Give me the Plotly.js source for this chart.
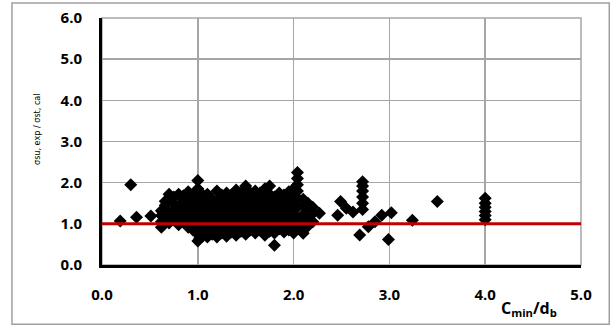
<!DOCTYPE html>
<html>
<head>
<meta charset="utf-8">
<script src="https://cdn.plot.ly/plotly-3.0.1.min.js"></script>
<style>html,body{margin:0;padding:0;background:#fff;}#chart{width:613px;height:331px;}</style>
</head>
<body>
<div id="chart"></div>
<script>
// Measured points (Cmin/db, ratio)
const cminDb = [
 0.19,0.30,0.36,0.51,
 0.62,0.62,0.62,0.62,
 0.66,0.66,0.66,
 0.70,0.70,0.70,0.70,
 0.75,0.75,0.75,0.75,
 0.80,0.80,0.80,0.80,
 0.85,0.85,0.85,0.85,
 0.90,0.90,0.90,0.90,0.90,
 0.95,0.95,0.95,0.95,0.95,
 1.00,1.00,1.00,1.00,1.00,1.00,1.00,1.00,1.00,1.00,
 1.02,1.02,1.02,1.02,1.02,1.02,1.02,
 1.05,1.05,1.05,1.05,1.05,
 1.10,1.10,1.10,1.10,1.10,1.10,
 1.15,1.15,1.15,1.15,1.15,
 1.20,1.20,1.20,1.20,1.20,1.20,
 1.25,1.25,1.25,1.25,1.25,
 1.30,1.30,1.30,1.30,1.30,1.30,
 1.35,1.35,1.35,1.35,1.35,
 1.40,1.40,1.40,1.40,1.40,1.40,
 1.45,1.45,1.45,1.45,1.45,
 1.50,1.50,1.50,1.50,1.50,1.50,
 1.55,1.55,1.55,1.55,1.55,
 1.60,1.60,1.60,1.60,1.60,1.60,
 1.65,1.65,1.65,1.65,1.65,
 1.70,1.70,1.70,1.70,1.70,1.70,
 1.75,1.75,1.75,1.75,1.75,1.75,
 1.80,1.80,1.80,1.80,1.80,1.80,
 1.85,1.85,1.85,1.85,1.85,
 1.90,1.90,1.90,1.90,1.90,
 1.95,1.95,1.95,1.95,1.95,
 2.00,2.00,2.00,2.00,2.00,2.00,
 2.04,2.04,2.04,2.04,2.04,2.04,2.04,2.04,
 2.10,2.10,2.10,2.10,2.10,
 2.15,2.15,2.15,2.15,
 2.20,2.20,2.20,
 2.27,
 2.46,2.49,2.55,2.62,
 2.72,2.72,2.72,2.72,2.72,2.72,
 2.69,2.78,2.85,2.92,3.02,2.99,3.24,3.50,
 4.00,4.00,4.00,4.00,4.00,4.00
];
const ratio = [
 1.07,1.95,1.16,1.19,
 0.92,1.05,1.20,1.32,
 1.12,1.45,1.55,
 1.02,1.25,1.60,1.72,
 1.10,1.35,1.50,1.65,
 0.98,1.20,1.42,1.72,
 1.05,1.30,1.55,1.68,
 0.92,1.15,1.40,1.62,1.78,
 0.85,1.05,1.28,1.50,1.70,
 0.58,0.75,0.90,1.10,1.25,1.40,1.55,1.70,1.85,2.05,
 0.65,0.82,1.00,1.18,1.35,1.62,1.78,
 0.70,0.95,1.20,1.45,1.65,
 0.68,0.88,1.08,1.30,1.52,1.72,
 0.75,1.00,1.22,1.42,1.60,
 0.68,0.90,1.12,1.35,1.55,1.80,
 0.78,1.02,1.25,1.48,1.70,
 0.70,0.92,1.15,1.38,1.60,1.75,
 0.80,1.05,1.28,1.50,1.70,
 0.72,0.95,1.18,1.40,1.62,1.82,
 0.82,1.08,1.30,1.55,1.75,
 0.75,0.98,1.20,1.42,1.65,1.92,
 0.85,1.10,1.32,1.55,1.75,
 0.78,1.00,1.22,1.45,1.68,1.80,
 0.88,1.12,1.35,1.58,1.75,
 0.72,0.95,1.18,1.40,1.62,1.85,
 0.82,1.05,1.28,1.50,1.72,1.92,
 0.48,0.78,1.00,1.22,1.45,1.65,
 0.88,1.10,1.32,1.55,1.75,
 0.80,1.02,1.25,1.48,1.70,
 0.85,1.10,1.35,1.58,1.78,
 0.78,0.98,1.20,1.42,1.65,1.85,
 0.90,1.15,1.40,1.62,1.80,1.95,2.10,2.25,
 0.77,1.00,1.22,1.45,1.60,
 0.95,1.15,1.35,1.50,
 1.05,1.25,1.40,
 1.26,
 1.21,1.54,1.38,1.29,
 1.35,1.50,1.65,1.80,1.92,2.02,
 0.73,0.93,1.05,1.21,1.27,0.62,1.09,1.54,
 1.10,1.20,1.30,1.40,1.50,1.62
];
const referenceRatio = 1.0;
const xTickVals = [0,1,2,3,4,5];
const xTickText = ['0.0','1.0','2.0','3.0','4.0','5.0'];
const yTickVals = [0,1,2,3,4,5,6];
const yTickText = ['0.0','1.0','2.0','3.0','4.0','5.0','6.0'];

const tickFont = {family:'Open Sans, sans-serif', size:15, color:'#000', weight:'bold'};

const data = [{
  x: cminDb, y: ratio, type:'scatter', mode:'markers',
  marker:{symbol:'diamond', size:10, color:'#000'},
  hoverinfo:'x+y', showlegend:false
}];

const layout = {
  width:613, height:331,
  margin:{l:102, r:32, t:18, b:66},
  paper_bgcolor:'#fff', plot_bgcolor:'#fff',
  showlegend:false,
  xaxis:{range:[0,5], tickvals:xTickVals, ticktext:xTickText,
    showgrid:true, gridcolor:'#a6a6a6', gridwidth:1.5,
    showline:true, linecolor:'#000', linewidth:3, zeroline:false,
    ticks:'', ticklabelstandoff:14, tickfont:tickFont, fixedrange:true},
  yaxis:{range:[0,6], tickvals:yTickVals, ticktext:yTickText,
    showgrid:true, gridcolor:'#a6a6a6', gridwidth:1.5,
    showline:true, linecolor:'#000', linewidth:3, zeroline:false,
    ticks:'', ticklabelstandoff:14, tickfont:tickFont, fixedrange:true},
  shapes:[
    {type:'rect', xref:'paper', yref:'paper', x0:0, x1:1, y0:0, y1:1,
     line:{color:'#a6a6a6', width:1.5}, layer:'below'},
    {type:'rect', xref:'paper', yref:'paper', x0:-0.188, x1:1.059, y0:-0.24, y1:1.061,
     line:{color:'#a0a0a0', width:1.5}, layer:'below'},
    {type:'line', xref:'paper', yref:'y', x0:0, x1:1, y0:referenceRatio, y1:referenceRatio,
     line:{color:'#c00000', width:3}, layer:'above'}
  ],
  annotations:[
    {text:'C<sub>min</sub>/d<sub>b</sub>', xref:'paper', yref:'paper', x:0.891, y:-0.178,
     showarrow:false, xanchor:'center', yanchor:'middle',
     font:{family:'Open Sans, sans-serif', size:16, color:'#000', weight:'bold'}},
    {text:'σsu, exp / σst, cal', xref:'paper', yref:'paper', x:-0.136, y:0.55,
     showarrow:false, textangle:-90, xanchor:'center', yanchor:'middle',
     font:{family:'DejaVu Sans Condensed, sans-serif', size:9, color:'#000'}}
  ]
};
Plotly.newPlot('chart', data, layout, {displayModeBar:false, staticPlot:true});
</script>
</body>
</html>
